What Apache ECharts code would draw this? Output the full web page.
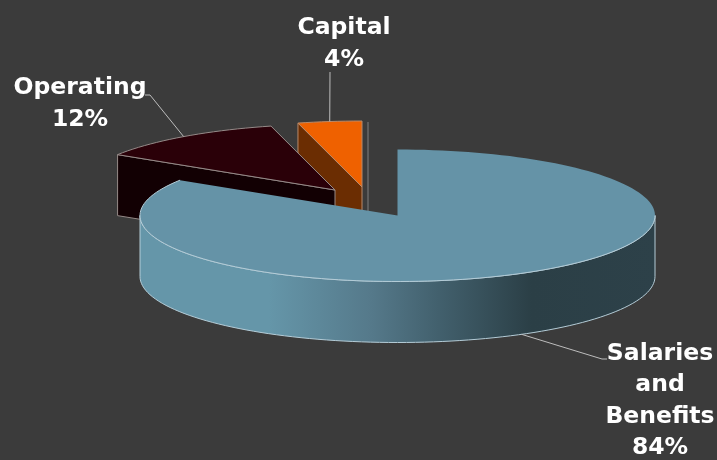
<!DOCTYPE html>
<html><head><meta charset="utf-8">
<style>html,body{margin:0;padding:0;background:#3b3b3b}#c{width:717px;height:460px}</style>
<script src="https://cdn.jsdelivr.net/npm/echarts@6/dist/echarts.min.js"></script>
</head><body><div id="c"></div>
<script>
const categories = ['Salaries\nand\nBenefits', 'Operating', 'Capital'];
const shares = [84, 12, 4];

// layout and style (not data)
const RX = 257.5, RY = 66, DEPTH = 61;
const apex = [[397.5,215.5],[335,190],[362,187]];
const topFill = ['#6593a7','#2a0008','#ef6100'];
const wallFill = ['#6593a7','#120003','#6b2d02'];
const edge = ['#b4ccd7','#958a88','#b98a6a'];
const labelPos = [[660,401],[80,104],[344,44]];
const elbow = [[[602,359],[607,359]],[[150,95],[145,95]],[[330,72]]];

const total = shares.reduce((a,b)=>a+b,0);
const rad = d => d*Math.PI/180;
function pt(i,deg,dy){ return [apex[i][0]+RX*Math.sin(rad(deg)), apex[i][1]-RY*Math.cos(rad(deg))+(dy||0)]; }
function arc(i,a,b,dy){ const out=[]; const n=Math.max(2,Math.ceil((b-a)/2)); for(let k=0;k<=n;k++) out.push(pt(i,a+(b-a)*k/n,dy)); return out; }

function renderSlice(params, api){
  const i = params.dataIndex;
  const v = api.value(1);
  let before = 0; for(let k=0;k<i;k++) before += shares[k];
  const a = before/total*360, b = (before+v)/total*360, mid=(a+b)/2;
  const z = 10*(categories.length-i);
  const ch = [];
  const c = apex[i];
  if(a>185 && a<355){
    const p=pt(i,a);
    ch.push({type:'polygon',z2:z,shape:{points:[p,c,[c[0],c[1]+DEPTH],[p[0],p[1]+DEPTH]]},
      style:{fill:wallFill[i],stroke:edge[i],lineWidth:1}});
  }
  const wa=Math.max(a,90), wb=Math.min(b,270);
  if(wb>wa){
    const pts=arc(i,wa,wb,0).concat(arc(i,wa,wb,DEPTH).reverse());
    ch.push({type:'polygon',z2:z+1,shape:{points:pts},style:{
      fill:new echarts.graphic.LinearGradient(1,0,0,0,[
        {offset:0,color:'#2d4149'},{offset:0.24,color:'#2b3f46'},{offset:0.42,color:'#42606d'},
        {offset:0.55,color:'#55798a'},{offset:0.75,color:'#6596a9'},{offset:1,color:'#6596a9'}]),
      stroke:edge[i],lineWidth:1}});
  }
  ch.push({type:'polygon',z2:z+2,shape:{points:[c].concat(arc(i,a,b,0))},
    style:{fill:topFill[i],stroke:i===0?null:edge[i],lineWidth:1}});
  if(i===0) ch.push({type:'polyline',z2:z+3,shape:{points:arc(i,90,b,0)},style:{fill:null,stroke:edge[i],lineWidth:1}});
  const s = pt(i,mid, (mid>90&&mid<270)?DEPTH:0);
  ch.push({type:'polyline',z2:100,shape:{points:[s].concat(elbow[i])},
    style:{fill:null,stroke:'#bdbdbd',lineWidth:1}});
  ch.push({type:'text',z2:101,x:labelPos[i][0],y:labelPos[i][1],style:{
    text:categories[i]+'\n'+v+'%',fill:'#ffffff',
    font:'bold 23.5px "DejaVu Sans", sans-serif',lineHeight:31.5,align:'center',verticalAlign:'middle'}});
  return {type:'group',children:ch};
}

const chart = echarts.init(document.getElementById('c'),null,{renderer:'canvas'});
chart.setOption({
  animation:false,
  backgroundColor:'#3b3b3b',
  series:[{
    type:'custom',
    coordinateSystem:'none',
    renderItem:renderSlice,
    data:categories.map((n,i)=>[n,shares[i]])
  }],
  graphic:[{type:'line',z:0,shape:{x1:368,y1:122,x2:368,y2:211},style:{stroke:'#6a6a6a',lineWidth:1.5}}]
});
</script></body></html>
